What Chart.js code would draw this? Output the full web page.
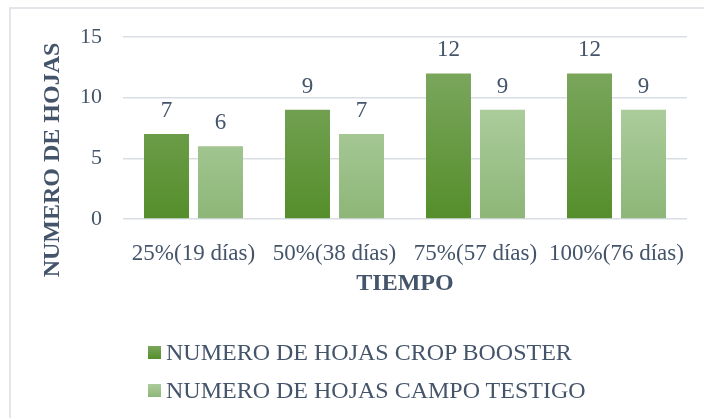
<!DOCTYPE html>
<html>
<head>
<meta charset="utf-8">
<script src="https://cdn.jsdelivr.net/npm/chart.js@4.4.1/dist/chart.umd.min.js"></script>
<style>
  body { margin: 0; background: #fff; }
  #wrap { position: relative; width: 704px; height: 418px; overflow: hidden; }
  #frame { position: absolute; left: 9px; top: 7px; width: 800px; height: 500px; border: 2px solid #e2e5e9; box-sizing: border-box; }
  canvas { position: absolute; left: 0; top: 0; }
  #legend { position: absolute; left: 148px; top: 333px; font-family: "Liberation Serif", serif; font-size: 24px; color: #44546a; }
  .item { display: flex; align-items: center; height: 38px; }
  .box { width: 13px; height: 13px; margin-right: 5px; }
</style>
</head>
<body>
<div id="wrap">
  <div id="frame"></div>
  <canvas id="myChart" width="704" height="418"></canvas>
  <div id="legend"></div>
</div>
<script>
  let categories = ['25%(19 días)', '50%(38 días)', '75%(57 días)', '100%(76 días)']
  let cropBooster = [7, 9, 12, 12]
  let campoTestigo = [6, 7, 9, 9]
  let seriesNames = ['NUMERO DE HOJAS CROP BOOSTER', 'NUMERO DE HOJAS CAMPO TESTIGO']
  let yTicks = [0, 5, 10, 15]

  const textColor = '#44546a'
  const gradTop = ['#7aa65c', '#abcc9b']
  const gradBottom = ['#558e2b', '#8db678']
  const serif = '"Liberation Serif", "Times New Roman", serif'

  // per-bar vertical gradient
  const barGradient = {
    id: 'barGradient',
    beforeDatasetDraw(chart, args) {
      const ctx = chart.ctx
      const i = args.index
      args.meta.data.forEach(bar => {
        const g = ctx.createLinearGradient(0, bar.y, 0, bar.base)
        g.addColorStop(0, gradTop[i])
        g.addColorStop(1, gradBottom[i])
        bar.options.backgroundColor = g
      })
    }
  }

  // value labels over bars + axis titles
  const labelsAndTitles = {
    id: 'labelsAndTitles',
    afterDatasetsDraw(chart) {
      const ctx = chart.ctx
      ctx.save()
      ctx.fillStyle = textColor
      ctx.font = '23px ' + serif
      ctx.textAlign = 'center'
      ctx.textBaseline = 'alphabetic'
      chart.data.datasets.forEach((ds, i) => {
        chart.getDatasetMeta(i).data.forEach((bar, j) => {
          ctx.fillText(ds.data[j], bar.x, bar.y - 17)
        })
      })
      const area = chart.chartArea
      ctx.font = 'bold 24px ' + serif
      ctx.textBaseline = 'middle'
      ctx.fillText('TIEMPO', (area.left + area.right) / 2, 284)
      ctx.translate(53, 160)
      ctx.rotate(-Math.PI / 2)
      ctx.fillText('NUMERO DE HOJAS', 0, 0)
      ctx.restore()
    }
  }

  const ctx = document.getElementById('myChart')
  new Chart(ctx, {
    type: 'bar',
    data: {
      labels: categories,
      datasets: [{
        label: seriesNames[0],
        data: cropBooster,
        backgroundColor: gradBottom[0],
        categoryPercentage: 0.766,
        barPercentage: 0.833
      }, {
        label: seriesNames[1],
        data: campoTestigo,
        backgroundColor: gradBottom[1],
        categoryPercentage: 0.766,
        barPercentage: 0.833
      }]
    },
    options: {
      responsive: false,
      animation: false,
      layout: { padding: { left: 0, top: 37, right: 17, bottom: 0 } },
      plugins: { legend: { display: false }, tooltip: { enabled: false } },
      scales: {
        x: {
          grid: { display: false },
          border: { display: false },
          ticks: { color: textColor, font: { family: serif, size: 23 }, padding: 13, maxRotation: 0, autoSkip: false },
          afterFit: (scale) => { scale.height = 199 }
        },
        y: {
          min: 0,
          max: 15,
          afterBuildTicks: (scale) => { scale.ticks = yTicks.map(v => ({ value: v })) },
          grid: { color: '#d9dee5', lineWidth: 1.5, drawTicks: false },
          border: { display: false },
          ticks: { color: textColor, font: { family: serif, size: 22 }, padding: 21 },
          afterFit: (scale) => { scale.width = 123 }
        }
      }
    },
    plugins: [barGradient, labelsAndTitles]
  })

  let legend = document.getElementById('legend')
  seriesNames.forEach((name, i) => {
    let row = document.createElement('div')
    row.className = 'item'
    let box = document.createElement('span')
    box.className = 'box'
    box.style.background = 'linear-gradient(' + gradTop[i] + ',' + gradBottom[i] + ')'
    let txt = document.createElement('span')
    txt.innerText = name
    row.appendChild(box)
    row.appendChild(txt)
    legend.appendChild(row)
  })
</script>
</body>
</html>
